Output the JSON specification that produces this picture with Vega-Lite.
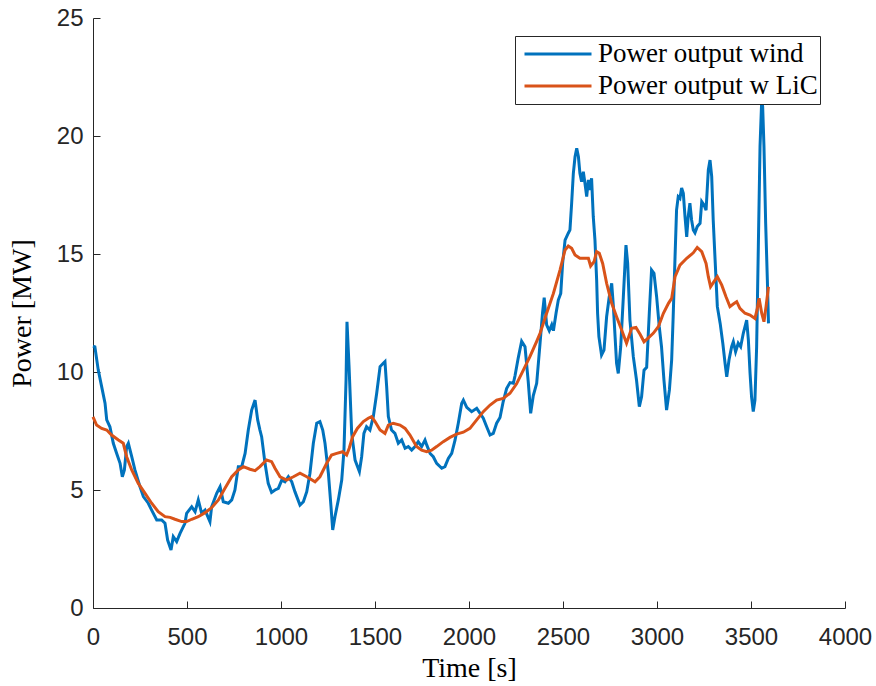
{
  "$schema": "https://vega.github.io/schema/vega-lite/v6.json",
  "width": 752,
  "height": 590,
  "autosize": {"type": "none"},
  "padding": {"left": 93, "top": 18, "right": 31, "bottom": 78},
  "background": "white",
  "config": {
    "view": {"stroke": null},
    "axis": {
      "grid": false,
      "labelFont": "Liberation Sans",
      "labelFontSize": 24,
      "labelColor": "#262626",
      "labelFlush": false,
      "labelOverlap": false,
      "format": "d",
      "domainColor": "#262626",
      "domainWidth": 1,
      "tickColor": "#262626",
      "tickWidth": 1,
      "tickSize": -7,
      "titleFont": "Liberation Serif",
      "titleFontSize": 28,
      "titleFontWeight": "normal",
      "titleColor": "#000000"
    },
    "legend": {
      "orient": "none",
      "legendX": 422,
      "legendY": 18,
      "padding": 2,
      "strokeColor": "#262626",
      "fillColor": "white",
      "symbolType": "stroke",
      "symbolSize": 4489,
      "symbolStrokeWidth": 3,
      "symbolOffset": 6,
      "clipHeight": 32,
      "rowPadding": 0,
      "labelFont": "Liberation Serif",
      "labelFontSize": 27,
      "labelColor": "#000000",
      "labelOffset": 5,
      "labelLimit": 500
    }
  },
  "datasets": {
    "wind": [
      {"t": 0, "p": 11.1}, {"t": 10, "p": 11.07}, {"t": 28, "p": 10.08}, {"t": 46, "p": 9.38}, {"t": 64, "p": 8.68},
      {"t": 73, "p": 7.97}, {"t": 90, "p": 7.68}, {"t": 108, "p": 6.98}, {"t": 126, "p": 6.55}, {"t": 144, "p": 6.13},
      {"t": 156, "p": 5.56}, {"t": 167, "p": 5.85}, {"t": 179, "p": 6.84}, {"t": 188, "p": 6.98}, {"t": 206, "p": 6.41},
      {"t": 223, "p": 5.85}, {"t": 250, "p": 5.14}, {"t": 268, "p": 4.72}, {"t": 294, "p": 4.44}, {"t": 312, "p": 4.15},
      {"t": 339, "p": 3.73}, {"t": 365, "p": 3.73}, {"t": 383, "p": 3.59}, {"t": 397, "p": 2.88}, {"t": 415, "p": 2.46},
      {"t": 427, "p": 3.02}, {"t": 445, "p": 2.81}, {"t": 463, "p": 3.16}, {"t": 489, "p": 3.59}, {"t": 498, "p": 4.01},
      {"t": 525, "p": 4.29}, {"t": 543, "p": 4.08}, {"t": 560, "p": 4.58}, {"t": 578, "p": 4.01}, {"t": 596, "p": 4.15},
      {"t": 622, "p": 3.66}, {"t": 631, "p": 4.29}, {"t": 658, "p": 4.86}, {"t": 676, "p": 5.14}, {"t": 693, "p": 4.5},
      {"t": 720, "p": 4.44}, {"t": 738, "p": 4.58}, {"t": 755, "p": 5.0}, {"t": 773, "p": 5.99}, {"t": 791, "p": 5.99},
      {"t": 809, "p": 6.55}, {"t": 826, "p": 7.54}, {"t": 844, "p": 8.39}, {"t": 862, "p": 8.81}, {"t": 876, "p": 7.97},
      {"t": 888, "p": 7.54}, {"t": 897, "p": 7.26}, {"t": 915, "p": 6.13}, {"t": 932, "p": 5.28}, {"t": 950, "p": 4.9},
      {"t": 968, "p": 5.0}, {"t": 986, "p": 5.07}, {"t": 1004, "p": 5.42}, {"t": 1021, "p": 5.35}, {"t": 1039, "p": 5.56},
      {"t": 1057, "p": 5.35}, {"t": 1074, "p": 4.93}, {"t": 1101, "p": 4.36}, {"t": 1119, "p": 4.5}, {"t": 1137, "p": 4.93},
      {"t": 1154, "p": 5.71}, {"t": 1172, "p": 6.98}, {"t": 1190, "p": 7.83}, {"t": 1207, "p": 7.9}, {"t": 1222, "p": 7.54},
      {"t": 1234, "p": 6.98}, {"t": 1252, "p": 5.71}, {"t": 1266, "p": 4.29}, {"t": 1275, "p": 3.31}, {"t": 1287, "p": 3.87},
      {"t": 1305, "p": 4.58}, {"t": 1323, "p": 5.42}, {"t": 1335, "p": 6.69}, {"t": 1346, "p": 9.66}, {"t": 1351, "p": 12.13},
      {"t": 1362, "p": 10.23}, {"t": 1376, "p": 7.4}, {"t": 1394, "p": 6.27}, {"t": 1417, "p": 5.78}, {"t": 1429, "p": 6.41},
      {"t": 1441, "p": 7.4}, {"t": 1455, "p": 7.68}, {"t": 1473, "p": 7.54}, {"t": 1491, "p": 8.11}, {"t": 1509, "p": 9.1},
      {"t": 1527, "p": 10.23}, {"t": 1544, "p": 10.37}, {"t": 1553, "p": 10.44}, {"t": 1562, "p": 9.38}, {"t": 1571, "p": 8.11},
      {"t": 1588, "p": 7.54}, {"t": 1606, "p": 7.4}, {"t": 1624, "p": 6.98}, {"t": 1642, "p": 7.12}, {"t": 1660, "p": 6.77},
      {"t": 1677, "p": 6.84}, {"t": 1695, "p": 6.69}, {"t": 1713, "p": 6.84}, {"t": 1730, "p": 7.05}, {"t": 1748, "p": 6.84},
      {"t": 1766, "p": 7.12}, {"t": 1775, "p": 6.91}, {"t": 1793, "p": 6.55}, {"t": 1810, "p": 6.41}, {"t": 1828, "p": 6.13},
      {"t": 1855, "p": 5.92}, {"t": 1872, "p": 5.99}, {"t": 1890, "p": 6.34}, {"t": 1908, "p": 6.55}, {"t": 1926, "p": 7.12},
      {"t": 1943, "p": 7.83}, {"t": 1961, "p": 8.67}, {"t": 1970, "p": 8.81}, {"t": 1988, "p": 8.5}, {"t": 2014, "p": 8.32},
      {"t": 2041, "p": 8.46}, {"t": 2059, "p": 8.25}, {"t": 2076, "p": 8.04}, {"t": 2094, "p": 7.68}, {"t": 2112, "p": 7.33},
      {"t": 2129, "p": 7.4}, {"t": 2147, "p": 7.83}, {"t": 2165, "p": 8.07}, {"t": 2182, "p": 8.75}, {"t": 2200, "p": 9.3},
      {"t": 2218, "p": 9.55}, {"t": 2236, "p": 9.52}, {"t": 2245, "p": 9.85}, {"t": 2262, "p": 10.6}, {"t": 2280, "p": 11.3},
      {"t": 2298, "p": 11.07}, {"t": 2315, "p": 9.6}, {"t": 2328, "p": 8.25}, {"t": 2342, "p": 9.0}, {"t": 2360, "p": 9.52},
      {"t": 2378, "p": 11.22}, {"t": 2391, "p": 12.49}, {"t": 2400, "p": 13.15}, {"t": 2413, "p": 12.0}, {"t": 2427, "p": 11.75},
      {"t": 2440, "p": 12.0}, {"t": 2449, "p": 11.75}, {"t": 2463, "p": 12.49}, {"t": 2475, "p": 13.05}, {"t": 2488, "p": 13.33},
      {"t": 2498, "p": 14.6}, {"t": 2511, "p": 15.59}, {"t": 2528, "p": 15.88}, {"t": 2537, "p": 16.02}, {"t": 2546, "p": 17.15},
      {"t": 2555, "p": 18.42}, {"t": 2564, "p": 19.12}, {"t": 2573, "p": 19.48}, {"t": 2582, "p": 19.12}, {"t": 2590, "p": 18.42},
      {"t": 2599, "p": 18.06}, {"t": 2608, "p": 18.49}, {"t": 2617, "p": 17.99}, {"t": 2626, "p": 17.43}, {"t": 2635, "p": 18.14},
      {"t": 2644, "p": 17.71}, {"t": 2652, "p": 18.21}, {"t": 2661, "p": 16.58}, {"t": 2670, "p": 15.59}, {"t": 2679, "p": 13.9},
      {"t": 2684, "p": 12.49}, {"t": 2691, "p": 11.5}, {"t": 2705, "p": 10.72}, {"t": 2718, "p": 10.93}, {"t": 2732, "p": 12.34},
      {"t": 2746, "p": 13.19}, {"t": 2759, "p": 13.76}, {"t": 2768, "p": 12.77}, {"t": 2777, "p": 11.5}, {"t": 2785, "p": 10.37},
      {"t": 2794, "p": 9.94}, {"t": 2807, "p": 11.07}, {"t": 2821, "p": 13.19}, {"t": 2830, "p": 14.6}, {"t": 2835, "p": 15.38},
      {"t": 2844, "p": 14.6}, {"t": 2856, "p": 12.2}, {"t": 2874, "p": 10.65}, {"t": 2891, "p": 9.66}, {"t": 2906, "p": 8.53},
      {"t": 2918, "p": 8.95}, {"t": 2931, "p": 10.08}, {"t": 2945, "p": 10.2}, {"t": 2959, "p": 12.49}, {"t": 2971, "p": 14.32},
      {"t": 2984, "p": 14.18}, {"t": 2998, "p": 13.19}, {"t": 3012, "p": 11.92}, {"t": 3024, "p": 11.07}, {"t": 3037, "p": 9.66},
      {"t": 3051, "p": 8.39}, {"t": 3066, "p": 9.24}, {"t": 3078, "p": 10.51}, {"t": 3086, "p": 12.34}, {"t": 3096, "p": 14.89},
      {"t": 3104, "p": 16.86}, {"t": 3113, "p": 17.43}, {"t": 3122, "p": 17.36}, {"t": 3131, "p": 17.8}, {"t": 3140, "p": 17.57},
      {"t": 3149, "p": 16.58}, {"t": 3158, "p": 15.73}, {"t": 3166, "p": 16.58}, {"t": 3175, "p": 17.15}, {"t": 3184, "p": 16.44},
      {"t": 3193, "p": 16.02}, {"t": 3202, "p": 15.9}, {"t": 3214, "p": 16.16}, {"t": 3229, "p": 16.3}, {"t": 3238, "p": 17.22},
      {"t": 3250, "p": 17.08}, {"t": 3261, "p": 16.86}, {"t": 3273, "p": 18.56}, {"t": 3282, "p": 18.98}, {"t": 3291, "p": 18.28},
      {"t": 3299, "p": 16.44}, {"t": 3309, "p": 14.75}, {"t": 3321, "p": 12.77}, {"t": 3336, "p": 12.06}, {"t": 3350, "p": 11.22},
      {"t": 3362, "p": 10.37}, {"t": 3371, "p": 9.8}, {"t": 3383, "p": 10.51}, {"t": 3397, "p": 11.07}, {"t": 3406, "p": 11.28},
      {"t": 3418, "p": 10.86}, {"t": 3432, "p": 11.22}, {"t": 3445, "p": 11.07}, {"t": 3459, "p": 11.64}, {"t": 3477, "p": 12.2},
      {"t": 3486, "p": 11.36}, {"t": 3495, "p": 9.94}, {"t": 3503, "p": 8.95}, {"t": 3512, "p": 8.32}, {"t": 3521, "p": 8.81},
      {"t": 3530, "p": 11.07}, {"t": 3539, "p": 15.31}, {"t": 3548, "p": 19.55}, {"t": 3557, "p": 21.53}, {"t": 3562, "p": 21.24},
      {"t": 3569, "p": 19.55}, {"t": 3578, "p": 16.3}, {"t": 3587, "p": 13.9}, {"t": 3593, "p": 12.06}
    ],
    "lic": [
      {"t": 0, "p": 8.1}, {"t": 19, "p": 7.75}, {"t": 46, "p": 7.61}, {"t": 73, "p": 7.54}, {"t": 99, "p": 7.33},
      {"t": 135, "p": 7.12}, {"t": 161, "p": 6.98}, {"t": 179, "p": 6.41}, {"t": 206, "p": 5.85}, {"t": 241, "p": 5.28},
      {"t": 277, "p": 4.86}, {"t": 312, "p": 4.44}, {"t": 347, "p": 4.08}, {"t": 383, "p": 3.87}, {"t": 410, "p": 3.84},
      {"t": 436, "p": 3.76}, {"t": 472, "p": 3.66}, {"t": 498, "p": 3.66}, {"t": 525, "p": 3.76}, {"t": 560, "p": 3.87},
      {"t": 596, "p": 4.04}, {"t": 631, "p": 4.25}, {"t": 667, "p": 4.58}, {"t": 702, "p": 5.07}, {"t": 738, "p": 5.56},
      {"t": 773, "p": 5.85}, {"t": 800, "p": 5.99}, {"t": 835, "p": 5.88}, {"t": 862, "p": 5.82}, {"t": 888, "p": 5.99},
      {"t": 923, "p": 6.27}, {"t": 950, "p": 6.2}, {"t": 968, "p": 5.92}, {"t": 995, "p": 5.56}, {"t": 1030, "p": 5.42},
      {"t": 1066, "p": 5.56}, {"t": 1101, "p": 5.71}, {"t": 1137, "p": 5.56}, {"t": 1181, "p": 5.35}, {"t": 1207, "p": 5.56},
      {"t": 1243, "p": 6.13}, {"t": 1269, "p": 6.48}, {"t": 1296, "p": 6.55}, {"t": 1328, "p": 6.62}, {"t": 1349, "p": 6.48},
      {"t": 1363, "p": 6.77}, {"t": 1381, "p": 7.26}, {"t": 1406, "p": 7.61}, {"t": 1438, "p": 7.9}, {"t": 1464, "p": 8.04},
      {"t": 1482, "p": 8.11}, {"t": 1500, "p": 7.9}, {"t": 1527, "p": 7.54}, {"t": 1553, "p": 7.4}, {"t": 1571, "p": 7.75},
      {"t": 1597, "p": 7.83}, {"t": 1633, "p": 7.75}, {"t": 1660, "p": 7.61}, {"t": 1686, "p": 7.33}, {"t": 1721, "p": 6.84},
      {"t": 1748, "p": 6.69}, {"t": 1775, "p": 6.62}, {"t": 1801, "p": 6.69}, {"t": 1828, "p": 6.84}, {"t": 1863, "p": 7.05},
      {"t": 1899, "p": 7.23}, {"t": 1934, "p": 7.37}, {"t": 1970, "p": 7.45}, {"t": 2005, "p": 7.61}, {"t": 2041, "p": 7.97},
      {"t": 2076, "p": 8.32}, {"t": 2112, "p": 8.6}, {"t": 2147, "p": 8.81}, {"t": 2182, "p": 8.88}, {"t": 2218, "p": 9.1},
      {"t": 2253, "p": 9.5}, {"t": 2289, "p": 10.08}, {"t": 2324, "p": 10.65}, {"t": 2360, "p": 11.3}, {"t": 2378, "p": 11.64},
      {"t": 2413, "p": 12.49}, {"t": 2449, "p": 13.33}, {"t": 2484, "p": 14.32}, {"t": 2511, "p": 15.17}, {"t": 2528, "p": 15.34},
      {"t": 2546, "p": 15.24}, {"t": 2564, "p": 14.96}, {"t": 2590, "p": 14.82}, {"t": 2617, "p": 14.82}, {"t": 2635, "p": 14.82},
      {"t": 2647, "p": 14.49}, {"t": 2665, "p": 14.67}, {"t": 2679, "p": 15.1}, {"t": 2693, "p": 15.03}, {"t": 2711, "p": 14.6},
      {"t": 2732, "p": 13.76}, {"t": 2759, "p": 12.91}, {"t": 2785, "p": 12.34}, {"t": 2812, "p": 11.78}, {"t": 2838, "p": 11.22},
      {"t": 2865, "p": 11.85}, {"t": 2888, "p": 11.89}, {"t": 2910, "p": 11.6}, {"t": 2931, "p": 11.28}, {"t": 2954, "p": 11.45},
      {"t": 2980, "p": 11.64}, {"t": 3007, "p": 11.92}, {"t": 3034, "p": 12.49}, {"t": 3061, "p": 12.91}, {"t": 3078, "p": 13.12},
      {"t": 3096, "p": 14.04}, {"t": 3122, "p": 14.53}, {"t": 3158, "p": 14.82}, {"t": 3193, "p": 15.05}, {"t": 3214, "p": 15.28},
      {"t": 3238, "p": 15.1}, {"t": 3261, "p": 14.6}, {"t": 3273, "p": 14.04}, {"t": 3285, "p": 13.61}, {"t": 3303, "p": 13.83},
      {"t": 3321, "p": 14.04}, {"t": 3344, "p": 13.69}, {"t": 3367, "p": 13.19}, {"t": 3388, "p": 12.77}, {"t": 3406, "p": 12.88},
      {"t": 3424, "p": 12.98}, {"t": 3441, "p": 12.7}, {"t": 3468, "p": 12.49}, {"t": 3495, "p": 12.41}, {"t": 3521, "p": 12.27},
      {"t": 3532, "p": 12.63}, {"t": 3543, "p": 13.12}, {"t": 3557, "p": 12.49}, {"t": 3569, "p": 12.13}, {"t": 3580, "p": 12.77},
      {"t": 3593, "p": 13.61}
    ]
  },
  "encoding": {
    "x": {
      "field": "t",
      "type": "quantitative",
      "scale": {"domain": [0, 4000], "nice": false},
      "axis": {
        "title": "Time [s]",
        "values": [0, 500, 1000, 1500, 2000, 2500, 3000, 3500, 4000],
        "labelPadding": 24,
        "titlePadding": 5
      }
    },
    "y": {
      "field": "p",
      "type": "quantitative",
      "scale": {"domain": [0, 25], "nice": false},
      "axis": {
        "title": "Power [MW]",
        "values": [0, 5, 10, 15, 20, 25],
        "labelPadding": 17,
        "titlePadding": 20
      }
    },
    "color": {
      "type": "nominal",
      "scale": {
        "domain": ["Power output wind", "Power output w LiC"],
        "range": ["#0072BD", "#D95319"]
      },
      "legend": {"title": null}
    }
  },
  "layer": [
    {
      "data": {"name": "wind"},
      "mark": {"type": "line", "strokeWidth": 3},
      "encoding": {"color": {"datum": "Power output wind", "type": "nominal"}}
    },
    {
      "data": {"name": "lic"},
      "mark": {"type": "line", "strokeWidth": 3},
      "encoding": {"color": {"datum": "Power output w LiC", "type": "nominal"}}
    }
  ]
}
